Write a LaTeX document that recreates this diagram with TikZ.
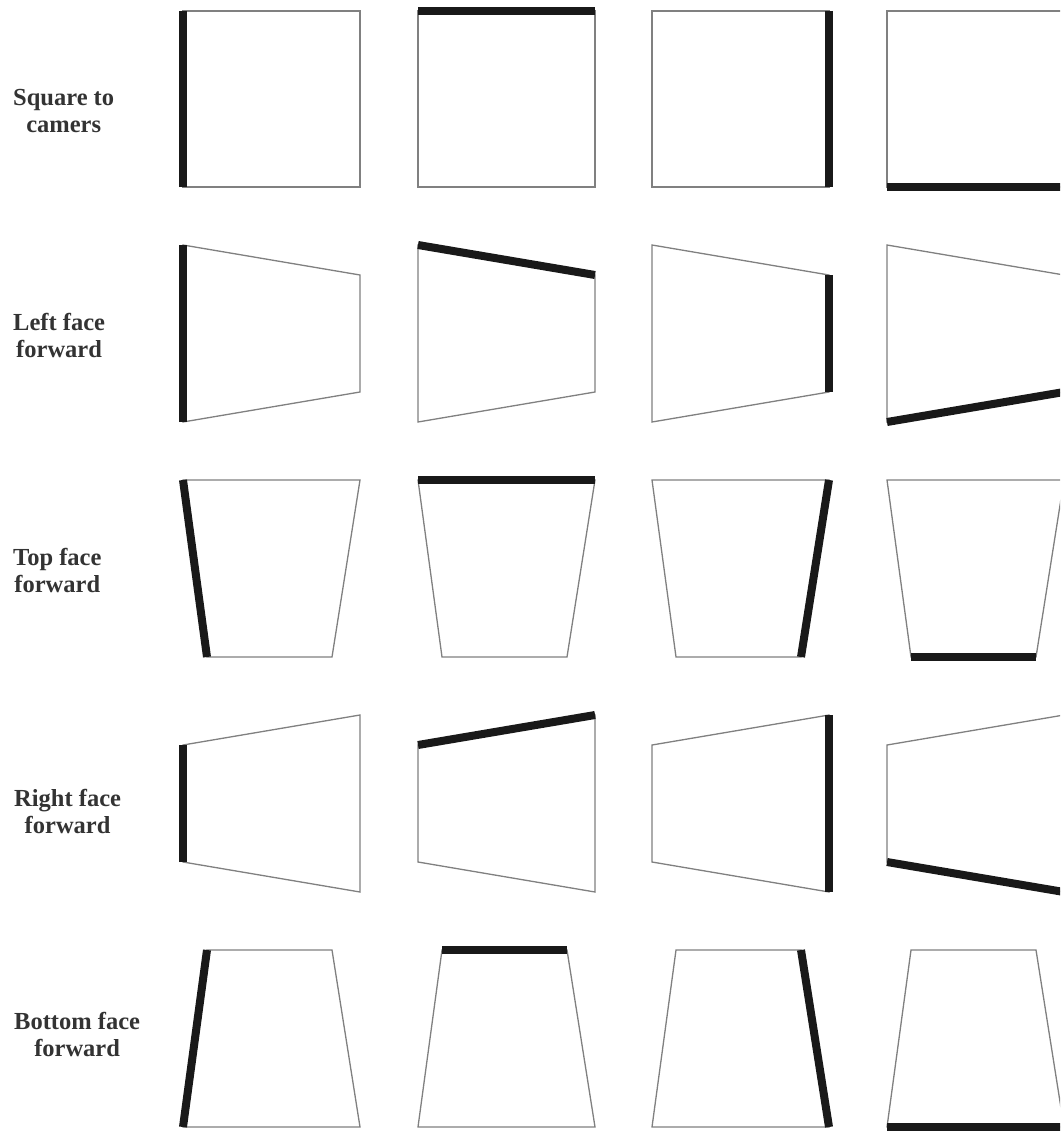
\documentclass[tikz,border=0pt]{standalone}
\usepackage{fontspec}
\setmainfont{Liberation Serif}
\begin{document}
\begin{tikzpicture}[x=1pt,y=-1pt,
  thinedge/.style={draw=black!50, line width=1.3pt, line join=miter},
  thickedge/.style={draw=black!90, line width=8pt, line cap=butt},
  rowlabel/.style={font=\fontsize{24.5}{27}\selectfont\bfseries, text=black!80,
    align=center, anchor=west, inner sep=0pt}]
\useasboundingbox (0,0) rectangle (1060,1132);
\clip (0,0) rectangle (1060,1132);
\fill[white] (0,0) rectangle (1060,1132);
% quadrilaterals: row / TL / TR / BR / BL (x relative to column, y absolute)
\foreach \r/\ax/\ay/\bx/\by/\cx/\cy/\dx/\dy in {
  1/0/11/177/11/177/187/0/187,
  2/0/245/177/275/177/392/0/422,
  3/0/480/177/480/149/657/24/657,
  4/0/745/177/715/177/892/0/862,
  5/24/950/149/950/177/1127/0/1127}{
  \foreach \ox [count=\c] in {183,418,652,887}{
    \coordinate (tl\r\c) at (\ox+\ax,\ay);
    \coordinate (tr\r\c) at (\ox+\bx,\by);
    \coordinate (br\r\c) at (\ox+\cx,\cy);
    \coordinate (bl\r\c) at (\ox+\dx,\dy);
    \draw[thinedge] (tl\r\c) -- (tr\r\c) -- (br\r\c) -- (bl\r\c) -- cycle;
  }
}
\foreach \r in {1,...,5}{
  \draw[thickedge] (bl\r1) -- (tl\r1);
  \draw[thickedge] (tl\r2) -- (tr\r2);
  \draw[thickedge] (tr\r3) -- (br\r3);
  \draw[thickedge] (bl\r4) -- (br\r4);
}
\node[rowlabel] (lab1) at (13,111) {Square to\\camers};
\node[rowlabel] (lab2) at (13,335) {Left face\\forward};
\node[rowlabel] (lab3) at (13,570) {Top face\\forward};
\node[rowlabel] (lab4) at (14,811) {Right face\\forward};
\node[rowlabel] (lab5) at (14,1034) {Bottom face\\forward};
\end{tikzpicture}
\end{document}
